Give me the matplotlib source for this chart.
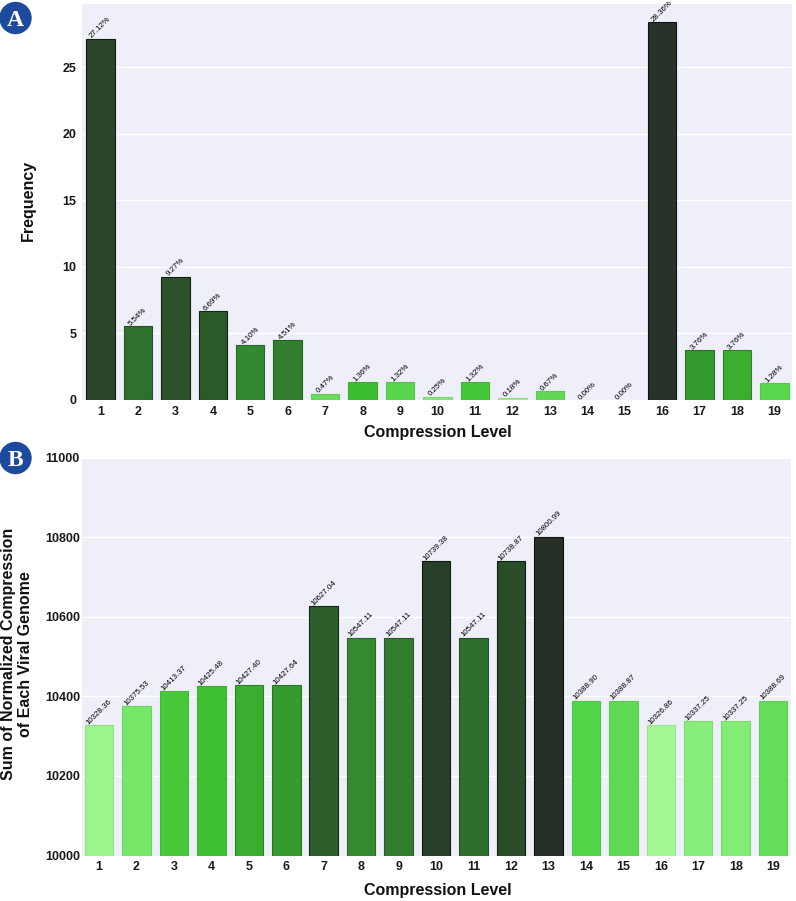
import matplotlib
matplotlib.use("Agg")
import matplotlib.pyplot as plt
from matplotlib.patches import Circle
from matplotlib.colors import to_rgb

plt.rcParams['font.family'] = ['Liberation Sans', 'DejaVu Sans']

levels = list(range(1, 20))
freq_pct = [27.12, 5.54, 9.27, 6.69, 4.10, 4.51, 0.47, 1.36, 1.32, 0.25,
            1.32, 0.18, 0.67, 0.00, 0.00, 28.36, 3.76, 3.76, 1.28]
norm_sum = [10328.36, 10375.53, 10413.37, 10425.48, 10427.40, 10427.64, 10627.04,
            10547.11, 10547.11, 10739.38, 10547.11, 10738.87, 10800.99, 10388.90,
            10388.87, 10326.86, 10337.25, 10337.25, 10388.69]
colors_a = ['#2a452c', '#2e702e', '#2b5229', '#2b5a2a', '#328a30', '#32802f', '#6cd95f',
            '#3dbd30', '#58d64b', '#82e877', '#45c538', '#9df08c', '#62d755', '#b0f5a0',
            '#b0f5a0', '#283229', '#349a2e', '#3aae2f', '#5ad74e']
colors_b = ['#9cf58b', '#76e768', '#48c93a', '#3fbf32', '#39ae30', '#369a2f', '#2c5e2c',
            '#348b2f', '#327c2f', '#283f29', '#2f6f2e', '#294d29', '#262f28', '#52d647',
            '#60da54', '#a4f695', '#88ee7a', '#82ec74', '#66dd5a']
yticks_a = [0, 5, 10, 15, 20, 25]
yticks_b = [10000, 10200, 10400, 10600, 10800, 11000]

W, H = 796, 901
fig = plt.figure(figsize=(W / 100, H / 100), dpi=100, facecolor='white')


def px_axes(left, top, right, bottom):
    return fig.add_axes([left / W, 1 - bottom / H, (right - left) / W, (bottom - top) / H])


def edge_of(c):
    rgb = to_rgb(c)
    lum = 0.3 * rgb[0] + 0.6 * rgb[1] + 0.1 * rgb[2]
    f = 0.4 if lum < 0.3 else (0.75 if lum < 0.5 else 0.93)
    return tuple(v * f for v in rgb)


def panel(ax, vals, cols, labels, ylim, yticks, xlim, ypad, xlabel_y):
    ax.set_facecolor('#eeeff9')
    ax.set_axisbelow(True)
    ax.grid(axis='y', color='white', linewidth=1.0)
    ax.grid(axis='x', visible=False)
    x = list(range(len(vals)))
    ax.bar(x, vals, width=0.76, color=cols, edgecolor=[edge_of(c) for c in cols], linewidth=0.8)
    for xi, v, t in zip(x, vals, labels):
        ax.annotate(t, (xi, v), xytext=(0, -0.8), textcoords='offset points', ha='center', va='bottom',
                    rotation=45, fontsize=5.7, color='black', annotation_clip=False)
    ax.set_xlim(*xlim)
    ax.set_ylim(*ylim)
    ax.set_yticks(yticks)
    ax.set_xticks(x)
    ax.set_xticklabels(levels)
    ax.tick_params(length=0, labelsize=9, pad=4)
    ax.tick_params(axis='y', pad=ypad)
    for lab in ax.get_xticklabels() + ax.get_yticklabels():
        lab.set_fontweight('bold')
        lab.set_color('#1a1a1a')
    for s in ax.spines.values():
        s.set_visible(False)
    fig.text(437.5 / W, 1 - xlabel_y / H, 'Compression Level', ha='center', va='center',
             fontsize=11.5, fontweight='bold', color='#111111')


ax_a = px_axes(82, 4, 792, 400)
panel(ax_a, freq_pct, colors_a, [f'{v:.2f}%' for v in freq_pct], (0, 29.73), yticks_a,
      (-0.494, 18.47), 4, 433)
ax_b = px_axes(82, 457.5, 791, 855.5)
panel(ax_b, norm_sum, colors_b, [f'{v:.2f}' for v in norm_sum], (10000, 11000), yticks_b,
      (-0.454, 18.476), 1.5, 891)

fig.text(28 / W, 1 - 200 / H, 'Frequency', rotation=90, ha='center', va='center',
         fontsize=11.5, fontweight='bold', color='#111111')
fig.text(17 / W, 1 - 654 / H, 'Sum of Normalized Compression\nof Each Viral Genome', rotation=90,
         ha='center', va='center', fontsize=11.5, fontweight='bold', color='#111111',
         linespacing=1.15, multialignment='center')

overlay = fig.add_axes([0, 0, 1, 1], facecolor='none')
overlay.set_xlim(0, W)
overlay.set_ylim(H, 0)
overlay.axis('off')
for cx, cy, letter in [(15.5, 18, 'A'), (15.5, 458, 'B')]:
    overlay.add_patch(Circle((cx, cy), 15.5, color='#1d4a9c', zorder=5))
    overlay.text(cx, cy, letter, color='white', ha='center', va='center_baseline', fontsize=17,
                 fontweight='bold', family='Liberation Serif', zorder=6)

fig.savefig('out.png', dpi=100)
